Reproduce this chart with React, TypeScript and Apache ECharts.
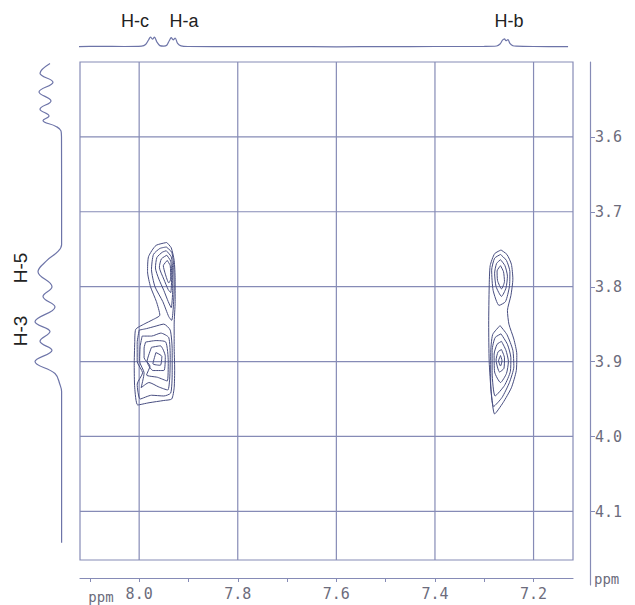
import React, { useEffect, useRef } from "react";
import * as echarts from "echarts";

// ---- axis ranges (ppm) ----
const X_LEFT = 8.12;
const X_RIGHT = 7.12;
const Y_TOP = 3.5;
const Y_BOTTOM = 4.165;
const Y_AXIS_END = 4.198;

// ---- tick values ----
const xGridTicks = [8.0, 7.8, 7.6, 7.4, 7.2];
const xAllTicks = [8.1, 8.0, 7.9, 7.8, 7.7, 7.6, 7.5, 7.4, 7.3, 7.2];
const yGridTicks = [3.6, 3.7, 3.8, 3.9, 4.0, 4.1];

// ---- top 1D projection: [ppm, intensity] ----
const topTrace: [number, number][] = [
  [8.128, 0.4], [8.08, 0.6], [8.03, 0.5], [7.995, 0.9], [7.987, 2.5], [7.981, 7],
  [7.977, 10], [7.973, 7.8], [7.969, 9.8], [7.964, 5], [7.958, 1.4], [7.95, 0.9],
  [7.944, 1.8], [7.939, 6.2], [7.935, 9.4], [7.931, 7.2], [7.927, 9], [7.922, 3.6],
  [7.915, 1.1], [7.9, 0.5], [7.8, 0.3], [7.7, 0.4], [7.6, 0.2], [7.5, 0.4], [7.4, 0.5],
  [7.3, 0.6], [7.275, 1], [7.268, 3], [7.263, 6.8], [7.259, 8.2], [7.256, 6.3],
  [7.252, 7.3], [7.248, 3.6], [7.242, 1.3], [7.235, 0.8], [7.2, 0.5], [7.13, 0.4],
];

// ---- left 1D projection: [ppm, intensity] ----
const leftTrace: [number, number][] = [
  [3.502, 12], [3.515, 22], [3.527, 9], [3.54, 23], [3.552, 11], [3.563, 22],
  [3.572, 13], [3.578, 19], [3.586, 6], [3.592, 1], [3.6, 0.5], [3.7, 0.4],
  [3.744, 0.4], [3.753, 4], [3.765, 15], [3.78, 24], [3.8, 10], [3.813, 19],
  [3.827, 7], [3.847, 27], [3.86, 12], [3.873, 22], [3.885, 10], [3.9, 27],
  [3.916, 7], [3.931, 2], [3.94, 0.4], [4.0, 0.4], [4.142, 0.4],
];

// ---- cross-peak contours: [F2 ppm, F1 ppm] ----
const crossPeakAC: [number, number][][] = [
  [[7.944,3.741],[7.935,3.748],[7.929,3.765],[7.927,3.79],[7.927,3.82],[7.929,3.85],[7.929,3.88],[7.928,3.91],[7.929,3.935],[7.934,3.95],[7.95,3.952],[7.98,3.955],[8.003,3.958],[8.009,3.935],[8.01,3.905],[8.009,3.875],[8.007,3.857],[7.99,3.85],[7.972,3.844],[7.958,3.838],[7.965,3.82],[7.977,3.8],[7.983,3.78],[7.981,3.76],[7.966,3.745],[7.944,3.741]],
  [[7.945,3.747],[7.934,3.754],[7.93,3.772],[7.929,3.8],[7.931,3.83],[7.934,3.845],[7.94,3.84],[7.952,3.82],[7.968,3.8],[7.975,3.777],[7.971,3.757],[7.958,3.749],[7.945,3.747]],
  [[7.945,3.752],[7.935,3.76],[7.932,3.778],[7.932,3.805],[7.935,3.828],[7.941,3.82],[7.95,3.805],[7.96,3.79],[7.967,3.775],[7.964,3.761],[7.953,3.754],[7.945,3.752]],
  [[7.944,3.758],[7.936,3.766],[7.934,3.785],[7.936,3.808],[7.941,3.804],[7.95,3.79],[7.959,3.774],[7.955,3.763],[7.944,3.758]],
  [[7.943,3.765],[7.937,3.772],[7.936,3.79],[7.94,3.795],[7.947,3.783],[7.951,3.772],[7.943,3.765]],
  [[8.0,3.858],[7.985,3.856],[7.968,3.853],[7.95,3.85],[7.937,3.858],[7.933,3.885],[7.933,3.915],[7.936,3.942],[7.95,3.946],[7.975,3.945],[7.998,3.95],[8.004,3.93],[7.993,3.915],[8.004,3.9],[8.004,3.875],[8.0,3.858]],
  [[7.994,3.866],[7.975,3.866],[7.956,3.862],[7.94,3.868],[7.937,3.895],[7.938,3.922],[7.942,3.938],[7.96,3.934],[7.98,3.928],[7.996,3.935],[7.99,3.915],[7.999,3.9],[7.998,3.88],[7.994,3.866]],
  [[7.987,3.874],[7.966,3.872],[7.946,3.874],[7.941,3.9],[7.943,3.926],[7.963,3.921],[7.985,3.918],[7.978,3.906],[7.99,3.895],[7.99,3.882],[7.987,3.874]],
  [[7.975,3.881],[7.957,3.879],[7.947,3.893],[7.95,3.912],[7.972,3.912],[7.984,3.9],[7.975,3.881]],
  [[7.966,3.888],[7.954,3.893],[7.957,3.905],[7.972,3.903],[7.966,3.888]],
];

const crossPeakB: [number, number][][] = [
  [[7.266,3.751],[7.254,3.757],[7.245,3.77],[7.242,3.79],[7.246,3.812],[7.253,3.832],[7.25,3.85],[7.24,3.87],[7.234,3.89],[7.235,3.912],[7.245,3.935],[7.262,3.955],[7.279,3.97],[7.286,3.94],[7.29,3.9],[7.291,3.85],[7.29,3.8],[7.288,3.772],[7.279,3.756],[7.266,3.751]],
  [[7.267,3.757],[7.255,3.765],[7.248,3.78],[7.249,3.8],[7.257,3.82],[7.27,3.825],[7.282,3.805],[7.285,3.778],[7.279,3.762],[7.267,3.757]],
  [[7.267,3.764],[7.258,3.772],[7.253,3.786],[7.256,3.802],[7.265,3.813],[7.276,3.8],[7.279,3.782],[7.275,3.769],[7.267,3.764]],
  [[7.267,3.772],[7.261,3.78],[7.259,3.793],[7.265,3.803],[7.273,3.792],[7.274,3.779],[7.267,3.772]],
  [[7.268,3.852],[7.254,3.864],[7.242,3.885],[7.24,3.907],[7.249,3.928],[7.264,3.948],[7.281,3.96],[7.287,3.93],[7.287,3.89],[7.283,3.864],[7.268,3.852]],
  [[7.266,3.863],[7.253,3.877],[7.246,3.895],[7.247,3.913],[7.259,3.932],[7.278,3.946],[7.284,3.915],[7.284,3.885],[7.278,3.868],[7.266,3.863]],
  [[7.265,3.873],[7.256,3.885],[7.251,3.9],[7.255,3.916],[7.267,3.928],[7.279,3.914],[7.28,3.89],[7.274,3.877],[7.265,3.873]],
  [[7.265,3.884],[7.259,3.895],[7.26,3.909],[7.269,3.914],[7.276,3.898],[7.272,3.887],[7.265,3.884]],
  [[7.267,3.892],[7.264,3.899],[7.267,3.906],[7.271,3.899],[7.267,3.892]],
];

const topLabels = [
  { text: "H-c", x: 135 },
  { text: "H-a", x: 184 },
  { text: "H-b", x: 509 },
];
const sideLabels = [
  { text: "H-5", y: 268 },
  { text: "H-3", y: 331 },
];

const GRID_COLOR = "#868bb6";
const CONTOUR_COLOR = "#474d80";
const TRACE_COLOR = "#6d74a8";
const TEXT_COLOR = "#6c6c7c";
const MONO = "'DejaVu Sans Mono', 'Liberation Mono', monospace";
const SANS = "'Liberation Sans', Arial, sans-serif";

function buildOption(): any {
  const series: any[] = [];
  xGridTicks.forEach((v) =>
    series.push({
      type: "line", xAxisIndex: 0, yAxisIndex: 0, silent: true, showSymbol: false,
      data: [[v, Y_TOP], [v, Y_BOTTOM]],
      lineStyle: { color: GRID_COLOR, width: 1.2 },
    })
  );
  yGridTicks.forEach((v) =>
    series.push({
      type: "line", xAxisIndex: 0, yAxisIndex: 0, silent: true, showSymbol: false,
      data: [[X_LEFT, v], [X_RIGHT, v]],
      lineStyle: { color: GRID_COLOR, width: 1.2 },
    })
  );
  [...crossPeakAC, ...crossPeakB].forEach((c) =>
    series.push({
      type: "line", xAxisIndex: 0, yAxisIndex: 0, silent: true, showSymbol: false,
      smooth: 0.2, data: c,
      lineStyle: { color: CONTOUR_COLOR, width: 1 },
    })
  );
  series.push({
    type: "line", xAxisIndex: 1, yAxisIndex: 1, silent: true, showSymbol: false,
    smooth: 0.3, clip: false, data: topTrace,
    lineStyle: { color: TRACE_COLOR, width: 1.2 },
  });
  series.push({
    type: "line", xAxisIndex: 2, yAxisIndex: 2, silent: true, showSymbol: false,
    smooth: 0.4, clip: false, data: leftTrace.map(([p, i]) => [i, p]),
    lineStyle: { color: TRACE_COLOR, width: 1.2 },
  });

  const hidden = { show: false };
  const ppmX = { type: "value", min: X_RIGHT, max: X_LEFT, inverse: true };
  const ppmY = { type: "value", min: Y_TOP, max: Y_BOTTOM, inverse: true };

  return {
    animation: false,
    backgroundColor: "#ffffff",
    grid: [
      { left: 80, top: 62, width: 493, height: 498, show: true, borderColor: GRID_COLOR, borderWidth: 1.2, backgroundColor: "transparent" },
      { left: 80, top: 25, width: 493, height: 22 },
      { left: 20, top: 62, width: 42, height: 498 },
      { left: 80, top: 577, width: 493, height: 1 },
      { left: 590, top: 62, width: 1, height: 523 },
    ],
    xAxis: [
      { ...ppmX, gridIndex: 0, ...hidden },
      { ...ppmX, gridIndex: 1, ...hidden },
      { type: "value", min: 0, max: 42, inverse: true, gridIndex: 2, ...hidden },
      {
        ...ppmX, gridIndex: 3, position: "bottom",
        axisLine: { show: true, lineStyle: { color: GRID_COLOR, width: 1.2 } },
        axisTick: { show: true, customValues: xAllTicks, length: 4, lineStyle: { color: GRID_COLOR } },
        axisLabel: {
          show: true, customValues: xGridTicks, margin: 8, color: TEXT_COLOR,
          fontFamily: MONO, fontSize: 15, formatter: (v: number) => v.toFixed(1),
        },
        splitLine: { show: false },
      },
      { type: "value", min: 0, max: 1, gridIndex: 4, ...hidden },
    ],
    yAxis: [
      { ...ppmY, gridIndex: 0, ...hidden },
      { type: "value", min: 0, max: 22, gridIndex: 1, ...hidden },
      { ...ppmY, gridIndex: 2, ...hidden },
      { type: "value", min: 0, max: 1, gridIndex: 3, ...hidden },
      {
        type: "value", min: Y_TOP, max: Y_AXIS_END, inverse: true, gridIndex: 4, position: "right",
        axisLine: { show: true, lineStyle: { color: GRID_COLOR, width: 1.2 } },
        axisTick: { show: true, customValues: yGridTicks, length: 5, lineStyle: { color: GRID_COLOR } },
        axisLabel: {
          show: true, customValues: yGridTicks, margin: 4, color: TEXT_COLOR,
          fontFamily: MONO, fontSize: 15, formatter: (v: number) => v.toFixed(1),
        },
        splitLine: { show: false },
      },
    ],
    graphic: [
      ...topLabels.map((l) => ({
        type: "text", x: l.x, y: 21, silent: true,
        style: { text: l.text, fill: "#222", font: `18px ${SANS}`, textAlign: "center", textVerticalAlign: "middle" },
      })),
      ...sideLabels.map((l) => ({
        type: "text", x: 20, y: l.y, rotation: Math.PI / 2, silent: true,
        style: { text: l.text, fill: "#222", font: `19px ${SANS}`, textAlign: "center", textVerticalAlign: "middle" },
      })),
      {
        type: "text", x: 101, y: 597, silent: true,
        style: { text: "ppm", fill: TEXT_COLOR, font: `14px ${MONO}`, textAlign: "center", textVerticalAlign: "middle" },
      },
      {
        type: "text", x: 594, y: 579, silent: true,
        style: { text: "ppm", fill: TEXT_COLOR, font: `14px ${MONO}`, textAlign: "left", textVerticalAlign: "middle" },
      },
    ],
    series,
  };
}

export default function App() {
  const ref = useRef<HTMLDivElement>(null);
  useEffect(() => {
    const chart = echarts.init(ref.current!, null, { renderer: "svg" });
    chart.setOption(buildOption());
    return () => chart.dispose();
  }, []);
  return (
    <div
      ref={ref}
      style={{ position: "fixed", left: 0, top: 0, width: 635, height: 605, background: "#fff" }}
    />
  );
}
